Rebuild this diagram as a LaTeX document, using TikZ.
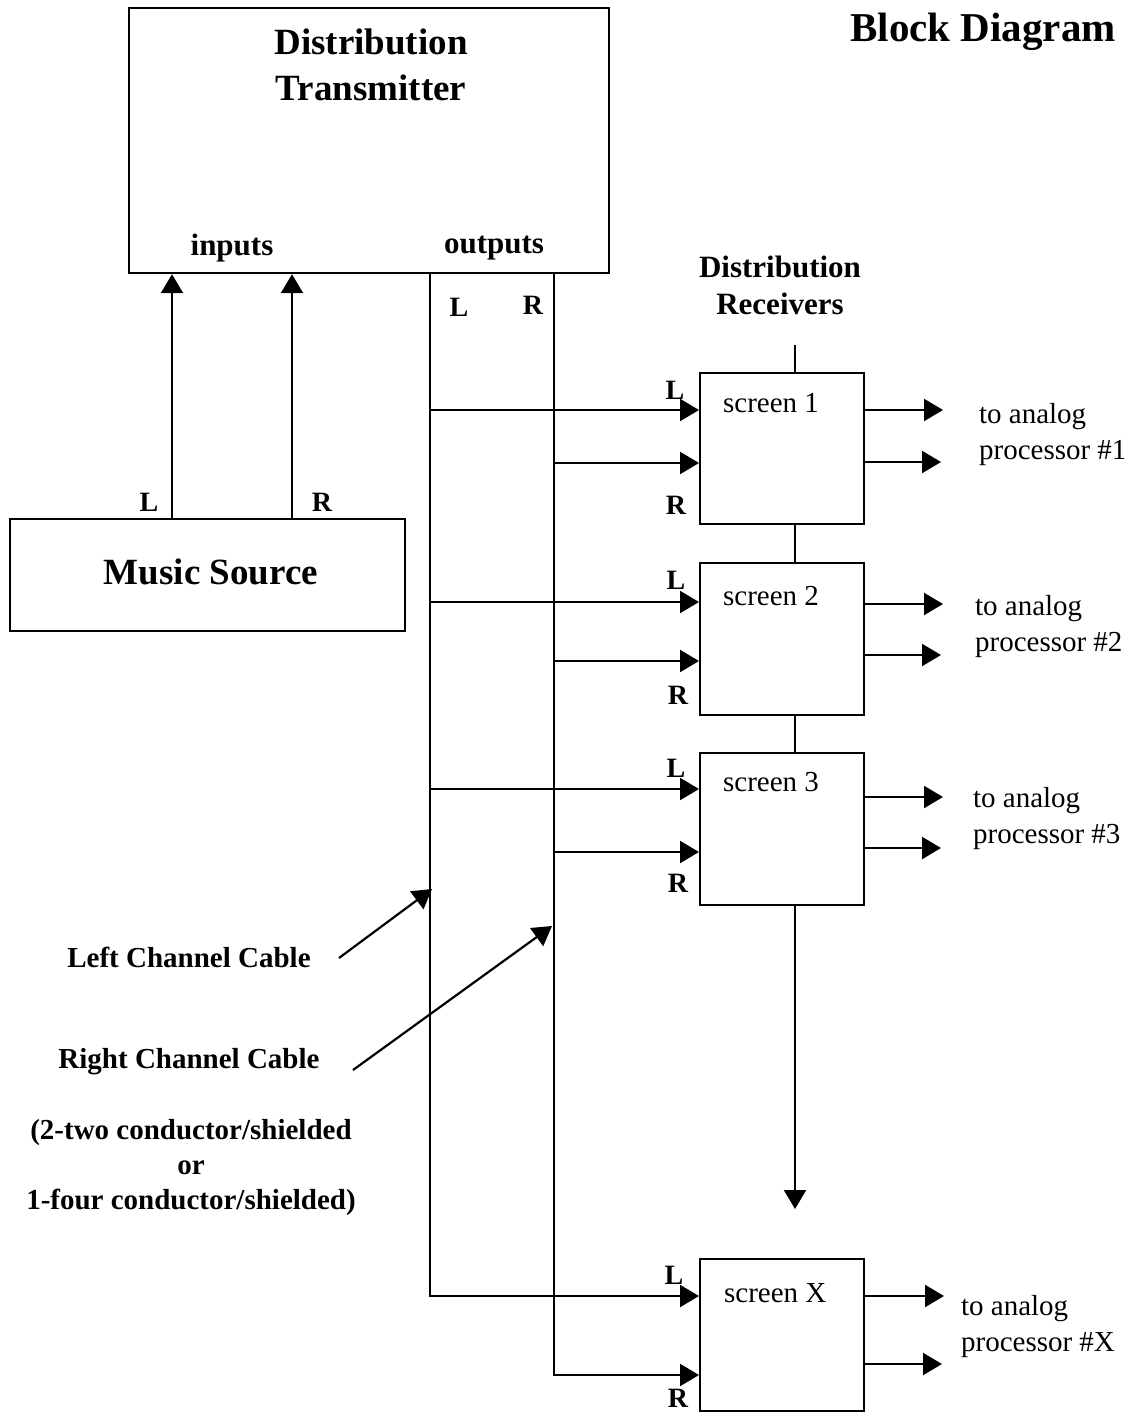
\documentclass[tikz,border=0pt]{standalone}
\usepackage{fontspec}
\setmainfont{Liberation Serif}
\usetikzlibrary{arrows.meta}
\begin{document}
\begin{tikzpicture}[x=0.5pt,y=-0.5pt,
  line width=1.1pt,
  box/.style={draw,rectangle,inner sep=0pt,anchor=north west},
  arr/.style={-{Triangle[length=9.5pt,width=11pt]}},
  bigt/.style={font=\bfseries\fontsize{18.5}{23}\selectfont,align=center,inner sep=0pt},
  headt/.style={font=\bfseries\fontsize{20.5}{24}\selectfont,inner sep=0pt},
  midt/.style={font=\bfseries\fontsize{15.5}{18.5}\selectfont,align=center,inner sep=0pt},
  lbl/.style={font=\bfseries\fontsize{14}{17}\selectfont,inner sep=0pt},
  cablet/.style={font=\bfseries\fontsize{14.5}{17.5}\selectfont,align=center,inner sep=0pt},
  scr/.style={font=\fontsize{14.5}{18}\selectfont,anchor=west,inner sep=0pt},
  outt/.style={font=\fontsize{14.5}{18}\selectfont,anchor=west,align=left,inner sep=0pt}]
\useasboundingbox (0,0) rectangle (1133,1412);

% boxes
\node[box,minimum width=240pt,minimum height=132.5pt] (tx) at (128,7) {};
\node[box,minimum width=197.5pt,minimum height=56pt] (ms) at (9,518) {};
\node[box,minimum width=82pt,minimum height=75.5pt] (s1) at (699,372) {};
\node[box,minimum width=82pt,minimum height=76pt] (s2) at (699,562) {};
\node[box,minimum width=82pt,minimum height=76pt] (s3) at (699,752) {};
\node[box,minimum width=82pt,minimum height=76pt] (sX) at (699,1258) {};

% texts
\node[bigt] (txt) at (371,65) {Distribution\\Transmitter};
\node[midt] (inp) at (232,248) {inputs};
\node[midt] (outp) at (494,248) {outputs};
\node[lbl] (oL) at (459,307) {L};
\node[lbl] (oR) at (533,305) {R};
\node[bigt] (mst) at (211,572) {Music Source};
\node[lbl] (mL) at (149,502) {L};
\node[lbl] (mR) at (322,502) {R};
\node[headt] (title) at (983,32) {Block Diagram};
\node[midt] (recv) at (780,285) {Distribution\\Receivers};

\node[scr] (t1) at (722,403) {screen 1};
\node[scr] (t2) at (722,596) {screen 2};
\node[scr] (t3) at (722,782) {screen 3};
\node[scr] (tX) at (723,1293) {screen X};

\node[outt] (o1) at (978,435) {to analog\\processor \#1};
\node[outt] (o2) at (974,627) {to analog\\processor \#2};
\node[outt] (o3) at (972,819) {to analog\\processor \#3};
\node[outt] (oX) at (960,1327) {to analog\\processor \#X};

\node[lbl] (l1) at (675,390) {L};
\node[lbl] (r1) at (676,505) {R};
\node[lbl] (l2) at (676,580) {L};
\node[lbl] (r2) at (678,695) {R};
\node[lbl] (l3) at (676,768) {L};
\node[lbl] (r3) at (678,883) {R};
\node[lbl] (lX) at (674,1275) {L};
\node[lbl] (rX) at (678,1398) {R};

\node[cablet] (lcc) at (189,957) {Left Channel Cable};
\node[cablet] (rcc) at (189,1062) {Right Channel Cable};
\node[cablet] (note) at (191,1168) {(2-two conductor/shielded\\or\\1-four conductor/shielded)};

% coordinates
\coordinate (cL) at (430,272);
\coordinate (cR) at (554,272);
\coordinate (inL) at (172,518);
\coordinate (inR) at (292,518);
\coordinate (stub) at (795,345);
\coordinate (downend) at (795,1209);
\coordinate (s1a) at (699,410); \coordinate (s1b) at (699,463);
\coordinate (s2a) at (699,602); \coordinate (s2b) at (699,661);
\coordinate (s3a) at (699,789); \coordinate (s3b) at (699,852);
\coordinate (sXa) at (699,1296); \coordinate (sXb) at (699,1375);
\coordinate (e1a) at (943,410); \coordinate (e1b) at (941,462);
\coordinate (e2a) at (943,604); \coordinate (e2b) at (941,655);
\coordinate (e3a) at (943,797); \coordinate (e3b) at (941,848);
\coordinate (eXa) at (944,1296); \coordinate (eXb) at (942,1364);
\coordinate (lccs) at (339,958); \coordinate (lcce) at (432,889);
\coordinate (rccs) at (353,1070); \coordinate (rcce) at (552,926);

% inputs
\draw[arr] (inL |- ms.north) -- (inL |- tx.south);
\draw[arr] (inR |- ms.north) -- (inR |- tx.south);

% cables
\draw[arr] (cL |- tx.south) |- (sXa);
\draw[arr] (cR |- tx.south) |- (sXb);
\draw[arr] (cL |- s1a) -- (s1a);
\draw[arr] (cR |- s1b) -- (s1b);
\draw[arr] (cL |- s2a) -- (s2a);
\draw[arr] (cR |- s2b) -- (s2b);
\draw[arr] (cL |- s3a) -- (s3a);
\draw[arr] (cR |- s3b) -- (s3b);

% receiver chain
\draw (stub) -- (stub |- s1.north);
\draw (stub |- s1.south) -- (stub |- s2.north);
\draw (stub |- s2.south) -- (stub |- s3.north);
\draw[arr] (stub |- s3.south) -- (downend);

% outputs
\draw[arr] (s1.east |- e1a) -- (e1a);
\draw[arr] (s1.east |- e1b) -- (e1b);
\draw[arr] (s2.east |- e2a) -- (e2a);
\draw[arr] (s2.east |- e2b) -- (e2b);
\draw[arr] (s3.east |- e3a) -- (e3a);
\draw[arr] (s3.east |- e3b) -- (e3b);
\draw[arr] (sX.east |- eXa) -- (eXa);
\draw[arr] (sX.east |- eXb) -- (eXb);

% cable pointers
\draw[arr] (lccs) -- (lcce);
\draw[arr] (rccs) -- (rcce);
\end{tikzpicture}
\end{document}
